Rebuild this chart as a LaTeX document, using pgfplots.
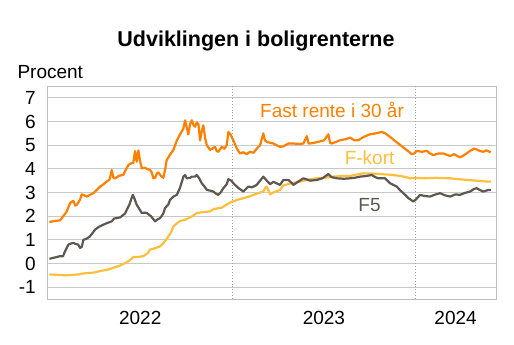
\documentclass[border=0pt]{standalone}
\usepackage{fontspec}
\setmainfont{Liberation Sans}
\usepackage{pgfplots}
\pgfplotsset{compat=1.18}
\definecolor{cOrange}{RGB}{255,128,0}
\definecolor{cYellow}{RGB}{255,190,60}
\definecolor{cGray}{RGB}{95,88,80}
\definecolor{cGrid}{RGB}{200,200,200}
\definecolor{cFrame}{RGB}{190,190,190}
\begin{document}
\begin{tikzpicture}
\path[use as bounding box] (0,0) rectangle (514pt,345pt);
\node[anchor=base, font=\fontsize{21.5}{24}\selectfont\bfseries] at (256pt,298.3pt) {Udviklingen i boligrenterne};
\node[anchor=base west, inner sep=0pt, font=\fontsize{19}{22}\selectfont] at (17.3pt,266.7pt) {Procent};
\begin{axis}[
 at={(47.3pt,46pt)}, anchor=south west,
 scale only axis, width=448.7pt, height=213pt,
 xmin=-0.07, xmax=29.24, ymin=-1.5, ymax=7.5,
 ytick={-1,0,1,2,3,4,5,6,7}, yticklabels={-1,0,1,2,3,4,5,6,7},
 xtick={6,18,26.6}, xticklabels={2022,2023,2024},
 major tick length=0,
 ymajorgrids, grid style={cGrid, line width=0.8pt},
 axis line style={cFrame, line width=0.8pt},
 tick label style={font=\fontsize{19}{22}\selectfont},
 yticklabel style={xshift=-8pt},
 xticklabel style={anchor=base, yshift=-26pt},
 line join=round,
]
\draw[gray!75, dotted, line width=0.9pt] (axis cs:12,-1.5) -- (axis cs:12,7.5);
\draw[gray!75, dotted, line width=0.9pt] (axis cs:24,-1.5) -- (axis cs:24,7.5);
% F-kort
\addplot[cYellow, line width=2.2pt, no marks] coordinates {
(0.07,-0.46) (0.6,-0.48) (1.2,-0.5) (2.0,-0.46) (2.29,-0.42) (3.0,-0.38) (3.38,-0.32) (4.0,-0.24) (4.25,-0.18) (4.7,-0.08) (5.12,0.05) (5.35,0.15) (5.55,0.27) (5.9,0.28) (6.21,0.31) (6.5,0.45) (6.64,0.59) (7.0,0.65) (7.3,0.73) (7.5,0.85) (7.73,1.04) (8.0,1.3) (8.17,1.57) (8.4,1.7) (8.6,1.8) (8.9,1.84) (9.04,1.88) (9.4,2.0) (9.69,2.13) (10.1,2.17) (10.56,2.2) (10.8,2.3) (11.33,2.36) (11.87,2.58) (12.3,2.68) (12.74,2.76) (13.2,2.85) (13.61,2.95) (14.04,3.05) (14.2,3.22) (14.27,3.25) (14.48,2.92) (14.7,3.0) (15.13,3.11) (15.35,3.3) (15.8,3.38) (16.44,3.46) (17.0,3.55) (17.53,3.6) (18.0,3.62) (18.62,3.67) (19.2,3.7) (19.71,3.7) (20.1,3.75) (20.58,3.81) (21.2,3.8) (21.88,3.77) (22.5,3.74) (22.97,3.7) (23.3,3.66) (23.63,3.6) (24.0,3.62) (24.5,3.6) (25.3,3.62) (26.24,3.6) (27.0,3.55) (27.98,3.5) (28.5,3.47) (28.9,3.46)
};
% F5
\addplot[cGray, line width=2.2pt, no marks] coordinates {
(0.07,0.2) (0.4,0.25) (0.76,0.31) (0.95,0.3) (1.09,0.52) (1.31,0.8) (1.5,0.85) (1.63,0.87) (1.8,0.82) (1.95,0.8) (2.07,0.66) (2.18,0.7) (2.29,1.0) (2.5,1.05) (2.72,1.15) (2.9,1.3) (3.05,1.43) (3.3,1.55) (3.59,1.64) (3.8,1.7) (4.14,1.78) (4.3,1.9) (4.47,1.92) (4.7,1.95) (4.9,2.06) (5.0,2.1) (5.12,2.27) (5.3,2.5) (5.51,2.9) (5.62,2.75) (5.77,2.48) (5.95,2.3) (6.1,2.13) (6.3,2.15) (6.43,2.13) (6.7,2.0) (6.97,1.78) (7.1,1.85) (7.3,1.92) (7.5,2.1) (7.62,2.34) (7.84,2.5) (7.95,2.69) (8.17,2.83) (8.39,2.9) (8.6,3.2) (8.82,3.67) (8.93,3.74) (9.04,3.6) (9.26,3.62) (9.37,3.67) (9.58,3.67) (9.69,3.74) (9.85,3.6) (10.02,3.39) (10.2,3.25) (10.35,3.11) (10.56,3.08) (10.78,3.04) (10.95,2.95) (11.1,2.9) (11.25,3.0) (11.43,3.18) (11.65,3.35) (11.76,3.56) (11.95,3.5) (12.1,3.38) (12.31,3.25) (12.5,3.15) (12.74,3.04) (12.9,3.15) (13.06,3.25) (13.3,3.22) (13.61,3.32) (13.83,3.5) (14.04,3.67) (14.2,3.55) (14.48,3.35) (14.7,3.45) (15.13,3.32) (15.35,3.53) (15.68,3.53) (15.9,3.4) (16.0,3.32) (16.3,3.45) (16.66,3.6) (17.1,3.5) (17.53,3.53) (17.9,3.6) (18.29,3.78) (18.5,3.65) (18.84,3.6) (19.3,3.58) (19.71,3.6) (20.0,3.62) (20.36,3.67) (20.8,3.7) (21.12,3.74) (21.35,3.65) (21.56,3.6) (21.99,3.6) (22.32,3.39) (22.76,3.25) (22.97,3.1) (23.19,2.97) (23.52,2.76) (23.84,2.62) (24.0,2.7) (24.28,2.9) (24.6,2.85) (24.93,2.83) (25.3,2.92) (25.59,2.97) (25.9,2.88) (26.24,2.83) (26.6,2.92) (26.89,2.9) (27.2,2.98) (27.55,3.04) (27.8,3.15) (27.98,3.18) (28.2,3.1) (28.41,3.04) (28.7,3.1) (28.9,3.11)
};
% Fast rente i 30 aar
\addplot[cOrange, line width=2.2pt, no marks] coordinates {
(0.07,1.75) (0.4,1.8) (0.76,1.82) (1.09,2.1) (1.2,2.2) (1.42,2.56) (1.63,2.65) (1.75,2.45) (1.86,2.48) (2.07,2.7) (2.18,2.92) (2.35,2.88) (2.51,2.83) (2.72,2.9) (2.94,2.97) (3.15,3.1) (3.38,3.25) (3.6,3.35) (3.81,3.46) (4.0,3.55) (4.14,3.95) (4.25,3.62) (4.36,3.6) (4.6,3.7) (4.9,3.75) (5.05,3.95) (5.23,4.16) (5.4,4.23) (5.55,4.25) (5.66,4.75) (5.77,4.3) (5.88,4.78) (6.0,4.3) (6.1,4.02) (6.3,4.05) (6.43,4.0) (6.64,3.95) (6.75,3.85) (6.86,3.6) (6.97,3.62) (7.1,3.82) (7.19,3.85) (7.35,3.7) (7.51,3.62) (7.62,3.95) (7.73,4.37) (7.95,4.6) (8.17,4.8) (8.39,5.2) (8.6,5.45) (8.82,5.7) (8.93,6.05) (9.04,5.75) (9.14,5.45) (9.26,5.9) (9.37,6.05) (9.48,5.85) (9.58,5.78) (9.69,5.95) (9.8,5.9) (9.91,5.2) (10.02,5.6) (10.12,5.84) (10.24,5.3) (10.35,5.0) (10.56,4.8) (10.7,4.85) (10.89,4.93) (11.0,4.75) (11.1,4.72) (11.33,4.93) (11.5,4.85) (11.65,5.0) (11.76,5.56) (11.9,5.45) (12.08,5.21) (12.31,4.86) (12.52,4.65) (12.74,4.7) (12.96,4.62) (13.17,4.72) (13.4,4.68) (13.61,4.85) (13.83,5.0) (14.04,5.5) (14.15,5.2) (14.27,5.14) (14.48,5.1) (14.7,5.07) (14.9,5.0) (15.13,4.93) (15.35,4.95) (15.68,5.07) (16.0,5.07) (16.4,5.05) (16.66,5.07) (16.88,5.38) (17.0,5.07) (17.09,5.07) (17.35,5.1) (17.64,5.14) (18.0,5.2) (18.29,5.46) (18.4,5.1) (18.51,5.07) (18.84,5.15) (19.05,5.21) (19.4,5.25) (19.71,5.32) (20.0,5.2) (20.25,5.21) (20.6,5.35) (21.01,5.46) (21.4,5.5) (21.78,5.56) (22.0,5.5) (22.32,5.35) (22.6,5.2) (22.86,5.07) (23.1,4.95) (23.41,4.79) (23.74,4.62) (23.9,4.65) (24.06,4.76) (24.4,4.72) (24.72,4.76) (24.93,4.65) (25.15,4.58) (25.5,4.65) (25.8,4.65) (26.0,4.6) (26.24,4.54) (26.5,4.62) (26.89,4.48) (27.2,4.6) (27.55,4.76) (27.8,4.85) (27.98,4.82) (28.2,4.75) (28.41,4.72) (28.6,4.78) (28.9,4.7)
};
\node[anchor=base, text=cOrange, font=\fontsize{19}{22}\selectfont] at (axis cs:18.53,6.19) {Fast rente i 30 år};
\node[anchor=base, text=cYellow, font=\fontsize{19}{22}\selectfont] at (axis cs:20.98,4.2) {F-kort};
\node[anchor=base, text=cGray, font=\fontsize{19}{22}\selectfont] at (axis cs:20.98,2.2) {F5};
\end{axis}
\end{tikzpicture}
\end{document}
